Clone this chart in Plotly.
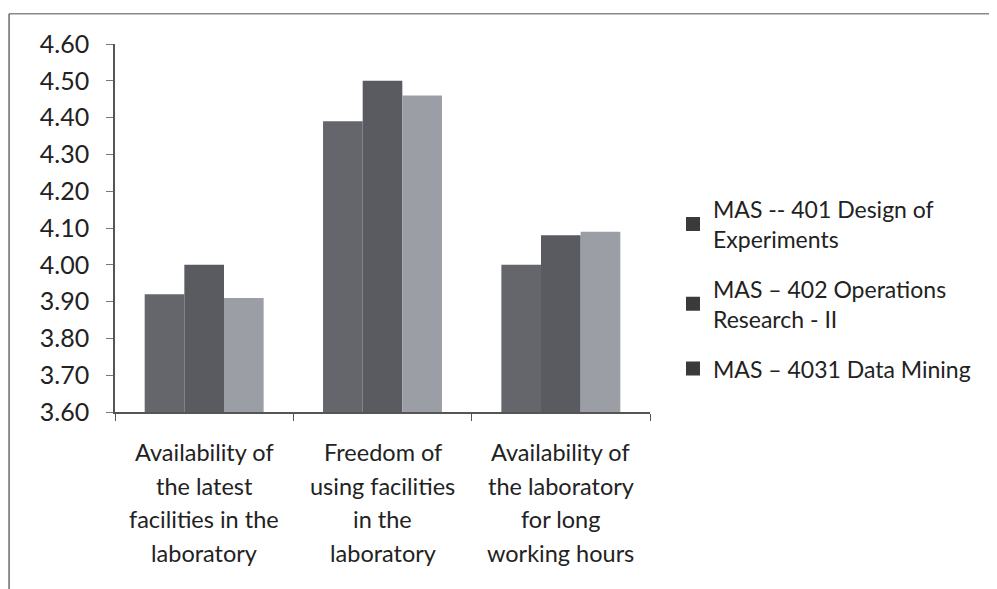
import plotly.graph_objects as go

# survey items (x categories), one label line per list entry
categories = [
    "Availability of the latest facilities in the laboratory",
    "Freedom of using facilities in the laboratory",
    "Availability of the laboratory for long working hours",
]
category_lines = [
    ["Availability of", "the latest", "facilities in the", "laboratory"],
    ["Freedom of", "using facilities", "in the", "laboratory"],
    ["Availability of", "the laboratory", "for long", "working hours"],
]

# mean scores per course
mas_401 = [3.92, 4.39, 4.00]
mas_402 = [4.00, 4.50, 4.08]
mas_4031 = [3.91, 4.46, 4.09]

series_names = [
    "MAS -- 401 Design of<br>Experiments",
    "MAS – 402 Operations<br>Research - II",
    "MAS – 4031 Data Mining",
]
series_values = [mas_401, mas_402, mas_4031]
series_colors = ["#64666c", "#595b60", "#9b9ea5"]

y_ticks = [3.60, 3.70, 3.80, 3.90, 4.00, 4.10, 4.20, 4.30, 4.40, 4.50, 4.60]

FONT = "Lato, Carlito, Calibri, sans-serif"

fig = go.Figure()
for i, (name, vals, col) in enumerate(zip(series_names, series_values, series_colors)):
    fig.add_trace(go.Bar(
        x=categories, y=vals, name=name, marker_color=col,
        marker_line_width=0, showlegend=False,
    ))
    # the scanned legend shows all keys as near-black squares
    fig.add_trace(go.Scatter(
        x=[None], y=[None], mode="markers", name=name,
        marker=dict(symbol="square", size=14, color="#3a3a3a"),
        legendgroup=f"g{i}",
    ))

# multi-line category labels with the wider line spacing of the original
for cat, lines in zip(categories, category_lines):
    for j, line in enumerate(lines):
        fig.add_annotation(
            x=cat, xref="x", y=0, yref="paper", yanchor="middle",
            yshift=-40 - 33.5 * j, text=line, showarrow=False,
            font=dict(family=FONT, size=23.5, color="#222222"),
        )

# frame lines of the scanned chart box
fig.add_shape(type="line", xref="paper", yref="paper",
              x0=-0.198, x1=1.7, y0=1.082, y1=1.082,
              line=dict(color="#8a8a8a", width=1.5))
fig.add_shape(type="line", xref="paper", yref="paper",
              x0=-0.198, x1=-0.198, y0=1.082, y1=-0.6,
              line=dict(color="#6a6a6a", width=1.5))

fig.update_layout(
    width=997, height=589,
    margin=dict(l=107, r=355, t=36, b=185),
    paper_bgcolor="white", plot_bgcolor="white",
    barmode="group", bargap=0.333, bargroupgap=0,
    font=dict(family=FONT, color="#222222"),
    showlegend=True,
    legend=dict(
        x=1.043, y=0.61, xanchor="left", yanchor="top",
        font=dict(family=FONT, size=23, color="#222222"),
        traceorder="grouped", tracegroupgap=17,
        itemwidth=30, bgcolor="rgba(0,0,0,0)",
    ),
    xaxis=dict(
        showticklabels=False, showline=True, linecolor="#555555", linewidth=1.5,
        ticks="outside", tickson="boundaries", ticklen=7, tickcolor="#555555",
        showgrid=False, zeroline=False,
    ),
    yaxis=dict(
        range=[3.6, 4.6], tickvals=y_ticks, tickformat=".2f",
        showline=True, linecolor="#555555", linewidth=1.5,
        ticks="outside", ticklen=7, tickcolor="#777777",
        ticklabelstandoff=12,
        showgrid=False, zeroline=False,
        tickfont=dict(family=FONT, size=25, color="#222222"),
    ),
)

fig.write_html("out.html")
